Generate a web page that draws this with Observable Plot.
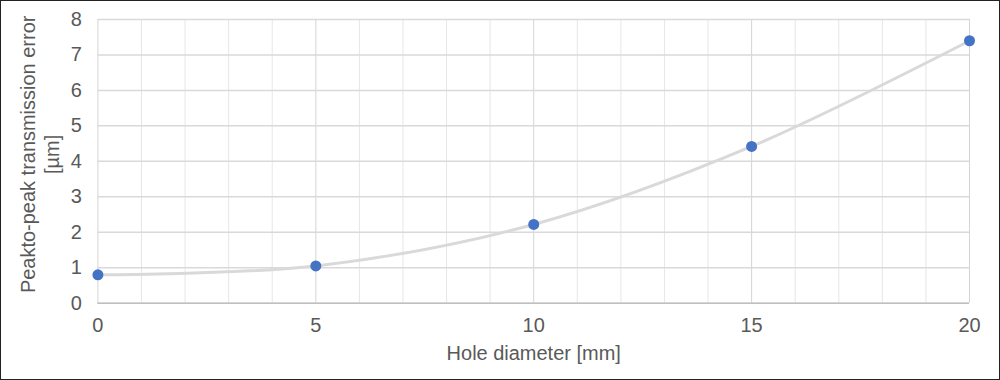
<!DOCTYPE html>
<html><head><meta charset="utf-8">
<script src="https://cdn.jsdelivr.net/npm/d3@7"></script>
<script src="https://cdn.jsdelivr.net/npm/@observablehq/plot@0.6"></script>
<style>
html,body{margin:0;padding:0;background:#fff;}
#wrap{width:1000px;height:380px;box-sizing:border-box;border:1px solid #222;position:relative;overflow:hidden;}
#chart{position:absolute;left:-1px;top:-1px;}
</style></head>
<body><div id="wrap"><div id="chart"></div></div>
<script>
const holeDiameter = [0, 5, 10, 15, 20];
const transmissionError = [0.8, 1.05, 2.22, 4.42, 7.4];
const xTicks = [0, 5, 10, 15, 20];
const yTicks = [0, 1, 2, 3, 4, 5, 6, 7, 8];
const xMinorGrid = d3.range(0, 21).filter(v => v % 5 !== 0);
const xLabel = "Hole diameter [mm]";
const yLabel = "Peakto-peak transmission error\n[µm]";

const data = holeDiameter.map((x, i) => ({x, y: transmissionError[i]}));
const FS = 20;
const TXT = "#595959";

const chart = Plot.plot({
  width: 1000, height: 380,
  marginLeft: 97.5, marginRight: 30, marginTop: 19, marginBottom: 77,
  style: {fontFamily: "'Liberation Sans', Arial, sans-serif", fontSize: FS + "px", color: TXT, background: "transparent"},
  x: {domain: [0, 20], label: null},
  y: {domain: [0, 8], label: null},
  marks: [
    Plot.ruleX(xMinorGrid, {stroke: "#e6e6e6", strokeWidth: 1}),
    Plot.ruleX(xTicks, {stroke: "#d4d4d4", strokeWidth: 1}),
    Plot.ruleY(yTicks, {stroke: "#d9d9d9", strokeWidth: 1.5}),
    Plot.ruleY([0], {stroke: "#bfbfbf", strokeWidth: 1.5}),
    Plot.axisX({ticks: xTicks, tickSize: 0, tickPadding: 15, fontSize: FS, fill: TXT, label: null}),
    Plot.axisY({ticks: yTicks, tickSize: 0, tickPadding: 16, fontSize: FS, fill: TXT, label: null}),
    Plot.line(data, {x: "x", y: "y", curve: "catmull-rom", stroke: "#d9d9d9", strokeWidth: 3}),
    Plot.dot(data, {x: "x", y: "y", r: 5.5, fill: "#4472c4", stroke: "none"}),
    Plot.text([yLabel], {frameAnchor: "left", dx: -58.5, dy: -7, rotate: -90, textAnchor: "middle", fontSize: FS, fill: TXT, lineHeight: 1.2}),
    Plot.text([xLabel], {frameAnchor: "bottom", dy: 57, textAnchor: "middle", fontSize: FS, fill: TXT})
  ]
});
document.getElementById("chart").appendChild(chart);
</script>
</body></html>
